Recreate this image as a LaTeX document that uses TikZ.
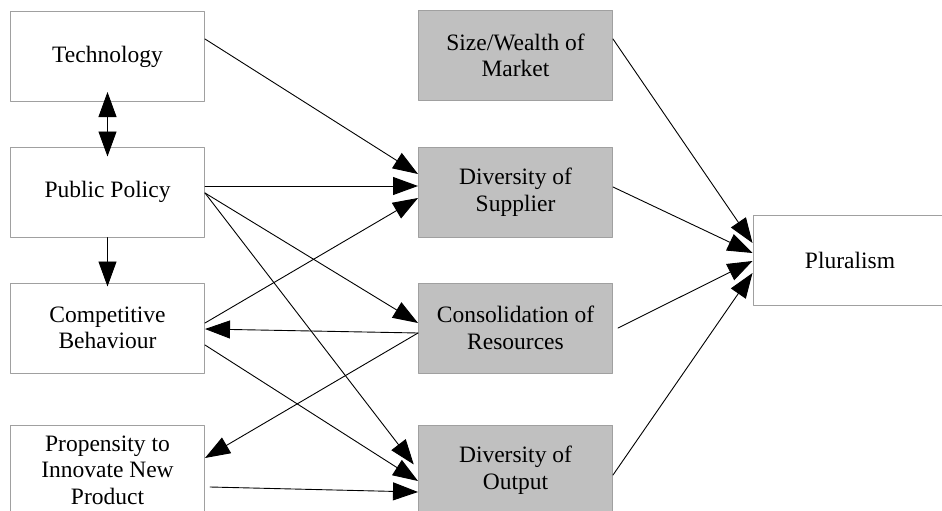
\documentclass[tikz,border=0pt]{standalone}
\usepackage{fontspec}
\setmainfont{Liberation Serif}
\usetikzlibrary{arrows.meta,calc}

\definecolor{boxline}{HTML}{A0A0A0}
\definecolor{boxfill}{HTML}{C0C0C0}

\tikzset{
    plainbox/.style={draw=boxline, line width=1pt, fill=white, minimum width=194pt, minimum height=90pt,
        inner sep=0pt, align=center, font=\fontsize{23.5}{26.5}\selectfont},
    greybox/.style={plainbox, fill=boxfill},
    link/.style={-{Triangle[length=25pt,width=18pt]}, line width=0.9pt},
    twolink/.style={{Triangle[length=25pt,width=18pt]}-{Triangle[length=25pt,width=18pt]}, line width=0.9pt},
}

\begin{document}
\begin{tikzpicture}[line cap=round, line join=round, x=1pt, y=-1pt]

                \useasboundingbox (0,0) rectangle (942,511);
                \clip (0,0) rectangle (942,511);

                \node[plainbox] (tech) at (107.5,56.5) {Technology};
                \node[plainbox] (policy) at (107.5,192) {Public Policy};
                \node[plainbox] (compet) at (107.5,328) {Competitive\\Behaviour};
                \node[plainbox] (propen) at (107.5,470) {Propensity to\\Innovate New\\Product};

                \node[greybox] (market) at (515.5,55.5) {Size/Wealth of\\Market};
                \node[greybox] (supplier) at (515.5,192) {Diversity of\\Supplier};
                \node[greybox] (consol) at (515.5,328) {Consolidation of\\Resources};
                \node[greybox] (output) at (515.5,470) {Diversity of\\Output};

                \node[plainbox] (plural) at (850,260) {Pluralism};

                \draw[twolink, shorten <=-10pt, shorten >=-10pt] (tech.south) -- (policy.north);
                \draw[link, shorten >=-4pt] (policy.south) -- (compet.north);

                \draw[link] ($(tech.east)+(0,-17.5)$) -- ($(supplier.west)+(0,-18)$);
                \draw[link] ($(policy.east)+(0,-6)$) -- ($(supplier.west)+(0,-6)$);
                \draw[link] ($(compet.east)+(0,-5)$) -- ($(supplier.west)+(0,6)$);
                \draw[link] ($(policy.east)+(0,1)$) -- ($(consol.west)+(0,-5)$);
                \draw[link, shorten >=7pt] ($(policy.east)+(0,1)$) -- (output.west);
                \draw[link] ($(compet.east)+(0,17)$) -- ($(output.west)+(0,11)$);
                \draw[link] ($(consol.west)+(0,5)$) -- ($(compet.east)+(0,1)$);
                \draw[link] ($(consol.west)+(0,5)$) -- ($(propen.east)+(0,-12)$);
                \draw[link] ($(propen.east)+(5,17)$) -- ($(output.west)+(0,22)$);

                \draw[link] ($(market.east)+(0,-16.5)$) -- ($(plural.west)+(0,-17)$);
                \draw[link] ($(supplier.east)+(0,-5)$) -- ($(plural.west)+(0,-7)$);
                \draw[link] ($(consol.east)+(5,0)$) -- ($(plural.west)+(0,1)$);
                \draw[link] ($(output.east)+(0,5)$) -- ($(plural.west)+(0,13)$);

\end{tikzpicture}
\end{document}
